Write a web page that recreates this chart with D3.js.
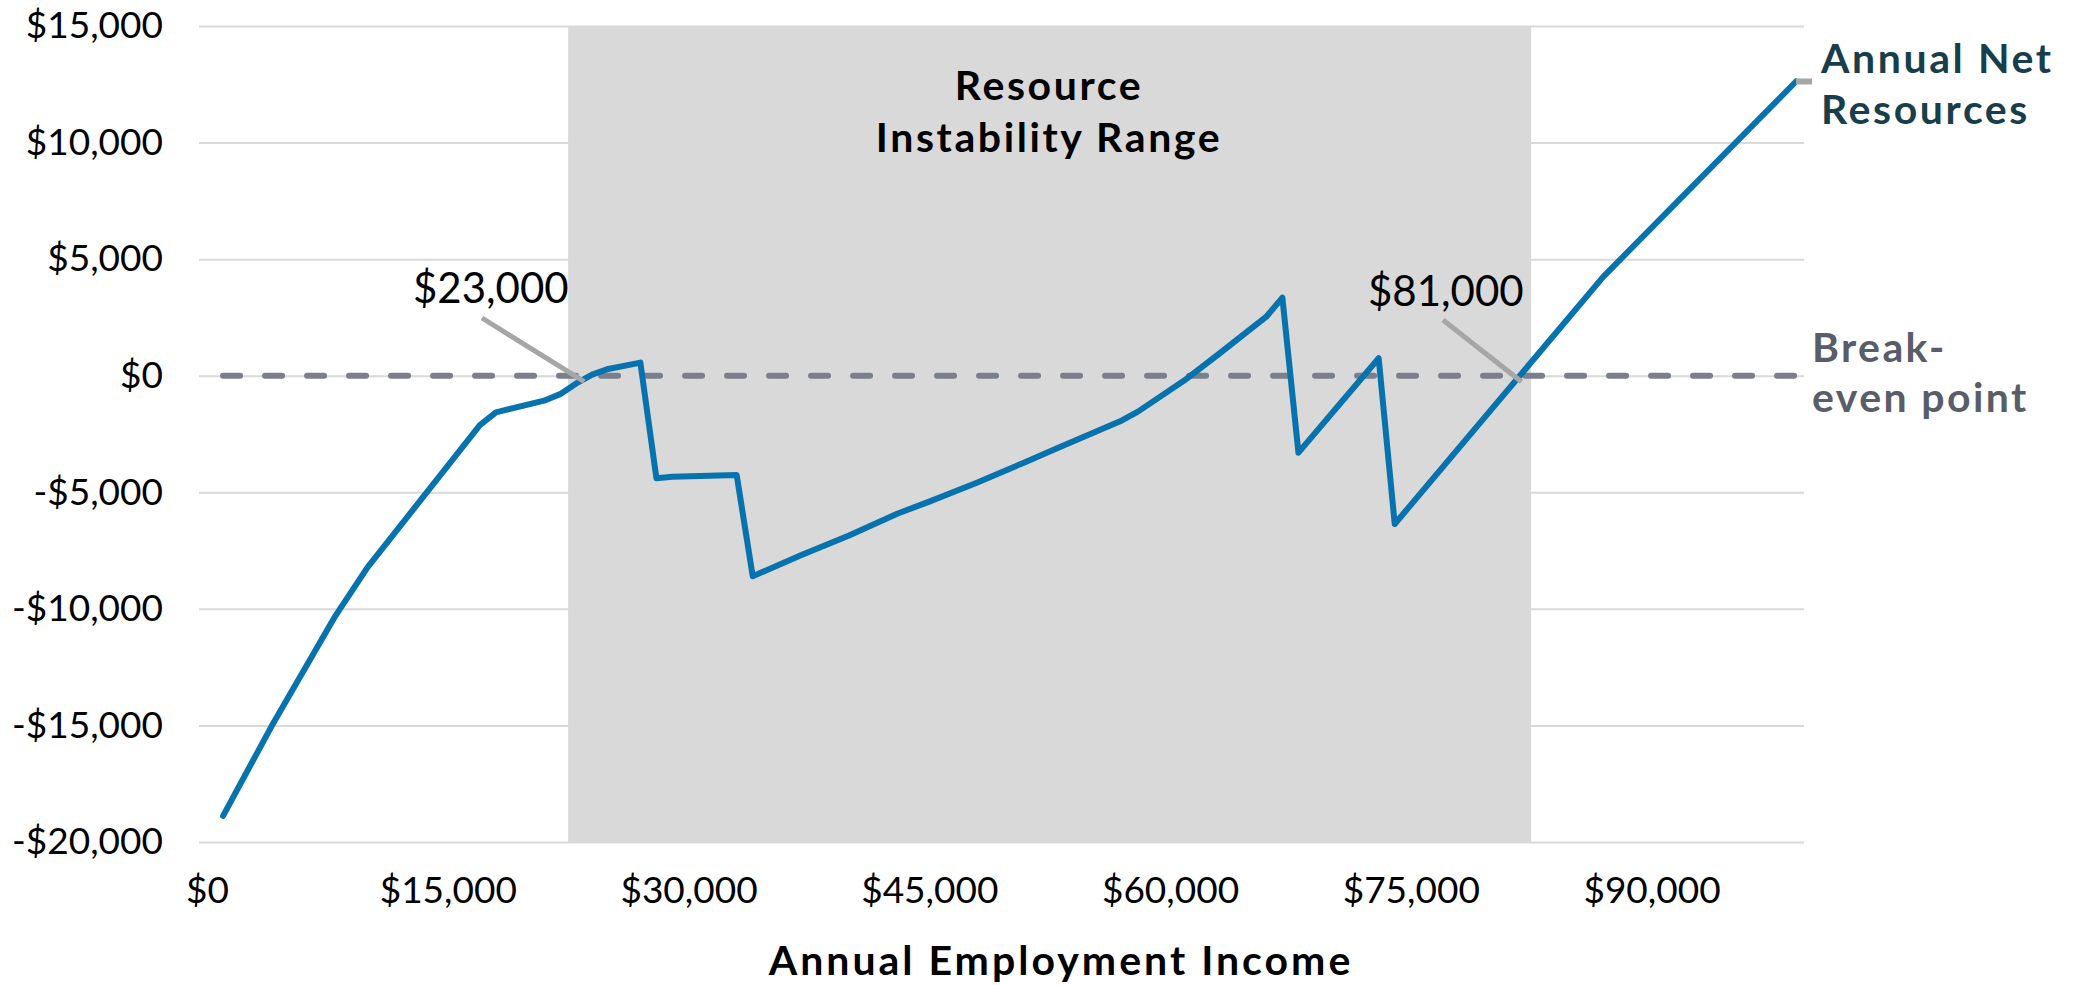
<!DOCTYPE html>
<html>
<head>
<meta charset="utf-8">
<script src="https://cdn.jsdelivr.net/npm/d3@7"></script>
<style>
  body { margin: 0; background: #fff; }
  svg text { font-family: Lato, "Open Sans", sans-serif; }
</style>
</head>
<body>
<div id="chart"></div>
<script>
// data (income in $, net resources in $)
const income = [1000, 4000, 8000, 10000, 17000, 18000, 21000, 22000, 23000, 24000, 25000, 27000,
    28000, 29000, 33000, 34000, 37000, 40000, 43000, 45000, 48000, 51000, 53000, 57000, 58000,
    61000, 63000, 66000, 67000, 68000, 73000, 74000, 87000, 99000]
const netResources = [-18880, -15060, -10300, -8220, -2120, -1570, -1070, -790, -330, 50, 290, 560,
    -4400, -4330, -4260, -8600, -7700, -6850, -5920, -5400, -4580, -3700, -3100, -1920, -1540,
    -150, 910, 2530, 3350, -3300, 750, -6360, 4250, 12620]

const breakEvenRange = [1000, 99000]          // the $0 series runs over the same incomes
const instabilityRange = [22500, 82500]       // shaded band
const breakEvenLabels = [
    {label: "$23,000", income: 23500, textX: 413, textY: 303, fromX: 482, fromY: 318},
    {label: "$81,000", income: 81900, textX: 1368, textY: 306, fromX: 1443, fromY: 320}
]

const xTicks = [0, 15000, 30000, 45000, 60000, 75000, 90000]
const yTicks = [-20000, -15000, -10000, -5000, 0, 5000, 10000, 15000]

const W = 2077, H = 985
const plot = {left: 199, right: 1804, top: 26, bottom: 842}

const svg = d3.select("#chart")
    .append("svg")
    .attr("width", W)
    .attr("height", H)

const x = d3.scaleLinear()
    .domain([-500, 99500])
    .range([plot.left, plot.right])

const y = d3.scaleLinear()
    .domain([-20000, 15000])
    .range([plot.bottom, plot.top])

const money = v => (v < 0 ? "-$" : "$") + d3.format(",")(Math.abs(v))

// y axis + gridlines
const yAxis = d3.axisLeft(y)
    .tickValues(yTicks)
    .tickSize(-(plot.right - plot.left))
    .tickPadding(36)
    .tickFormat(money)

const yG = svg.append("g")
    .attr("transform", `translate(${plot.left},0)`)
    .call(yAxis)
yG.select(".domain").remove()
yG.selectAll(".tick line").attr("stroke", "#d9d9d9").attr("stroke-width", 2)
yG.selectAll(".tick text").attr("font-size", 37).attr("fill", "#000")

// x axis
const xAxis = d3.axisBottom(x)
    .tickValues(xTicks)
    .tickSize(0)
    .tickPadding(35)
    .tickFormat(money)

const xG = svg.append("g")
    .attr("transform", `translate(0,${plot.bottom})`)
    .call(xAxis)
xG.select(".domain").remove()
xG.selectAll(".tick text").attr("font-size", 37).attr("fill", "#000")

// instability band
svg.append("rect")
    .attr("x", x(instabilityRange[0]))
    .attr("y", plot.top)
    .attr("width", x(instabilityRange[1]) - x(instabilityRange[0]))
    .attr("height", plot.bottom - plot.top)
    .attr("fill", "#d9d9d9")

svg.append("text")
    .attr("text-anchor", "middle")
    .attr("font-size", 41)
    .attr("font-weight", "bold")
    .attr("letter-spacing", 2.6)
    .selectAll("tspan")
    .data(["Resource", "Instability Range"])
    .join("tspan")
    .attr("x", 1049)
    .attr("y", (d, i) => 100 + i * 52)
    .text(d => d)

// break-even dashed line
svg.append("line")
    .attr("x1", x(breakEvenRange[0]))
    .attr("x2", x(breakEvenRange[1]))
    .attr("y1", y(0))
    .attr("y2", y(0))
    .attr("stroke", "#7b7f8c")
    .attr("stroke-width", 6)
    .attr("stroke-linecap", "round")
    .attr("stroke-dasharray", "17 25")

// net resources line
const line = d3.line()
    .x((d, i) => x(income[i]))
    .y(d => y(d))

svg.append("path")
    .datum(netResources)
    .attr("d", line)
    .attr("fill", "none")
    .attr("stroke", "#0773ae")
    .attr("stroke-width", 6)
    .attr("stroke-linejoin", "round")
    .attr("stroke-linecap", "round")

// break-even annotations
svg.selectAll("line.leader")
    .data(breakEvenLabels)
    .join("line")
    .attr("class", "leader")
    .attr("x1", d => d.fromX)
    .attr("y1", d => d.fromY)
    .attr("x2", d => x(d.income))
    .attr("y2", y(0) + 6)
    .attr("stroke", "#a6a6a6")
    .attr("stroke-width", 5)

svg.selectAll("text.be-label")
    .data(breakEvenLabels)
    .join("text")
    .attr("class", "be-label")
    .attr("x", d => d.textX)
    .attr("y", d => d.textY)
    .attr("font-size", 42)
    .attr("fill", "#000")
    .text(d => d.label)

// series labels on the right
const lastX = x(income[income.length - 1])
const lastY = y(netResources[netResources.length - 1])
svg.append("line")
    .attr("x1", lastX)
    .attr("x2", lastX + 16)
    .attr("y1", lastY)
    .attr("y2", lastY)
    .attr("stroke", "#a6a6a6")
    .attr("stroke-width", 6)

svg.append("text")
    .attr("font-size", 41)
    .attr("font-weight", "bold")
    .attr("letter-spacing", 2.6)
    .attr("fill", "#193e4b")
    .selectAll("tspan")
    .data(["Annual Net", "Resources"])
    .join("tspan")
    .attr("x", 1821)
    .attr("y", (d, i) => 73 + i * 51)
    .text(d => d)

svg.append("text")
    .attr("font-size", 41)
    .attr("font-weight", "bold")
    .attr("letter-spacing", 2.4)
    .attr("fill", "#595d68")
    .selectAll("tspan")
    .data(["Break-", "even point"])
    .join("tspan")
    .attr("x", 1812)
    .attr("y", (d, i) => 362 + i * 50)
    .text(d => d)

// x axis title
svg.append("text")
    .attr("x", 1061)
    .attr("y", 975)
    .attr("text-anchor", "middle")
    .attr("font-size", 41)
    .attr("font-weight", "bold")
    .attr("letter-spacing", 3)
    .attr("fill", "#000")
    .text("Annual Employment Income")
</script>
</body>
</html>
